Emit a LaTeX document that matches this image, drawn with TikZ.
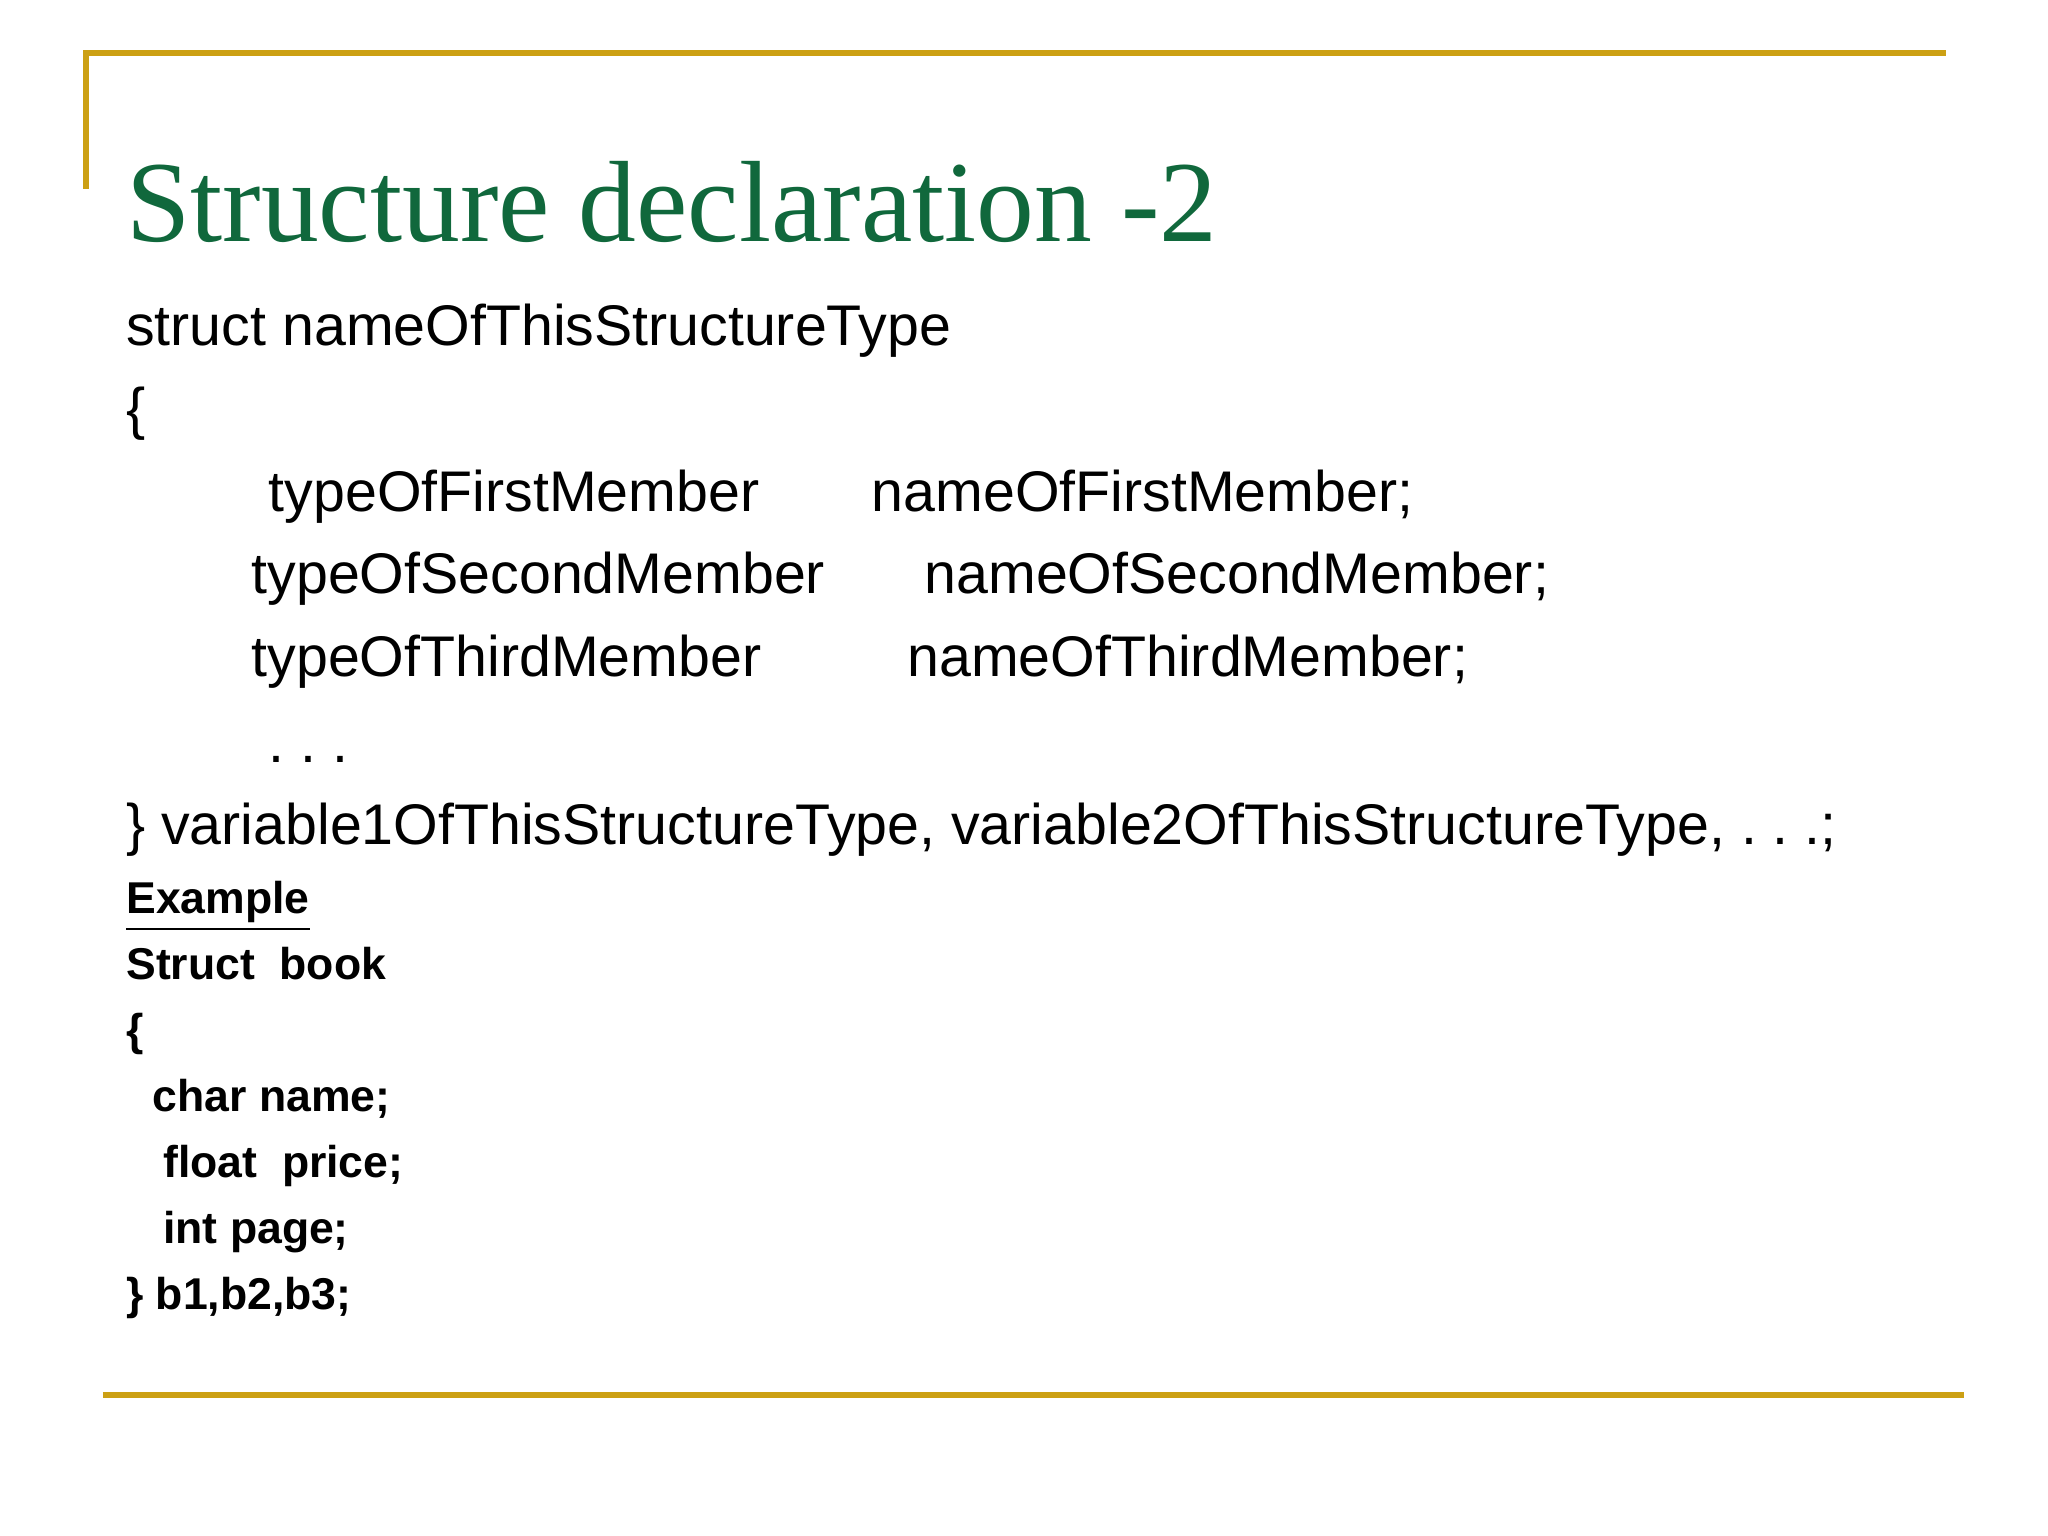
\documentclass[tikz,border=0pt]{standalone}
\usepackage{fontspec}
\setmainfont{Liberation Serif}
\setsansfont{Liberation Sans}
\usepackage{xcolor}
\definecolor{gold}{RGB}{204,160,20}
\definecolor{titlegreen}{RGB}{16,104,60}
\tikzset{
  code/.style={anchor=base west, inner sep=0pt, font=\sffamily\fontsize{12.35}{14}\selectfont},
  bcode/.style={anchor=base west, inner sep=0pt, font=\sffamily\bfseries\fontsize{9.6}{11}\selectfont},
  rule/.style={draw=gold, line width=1.3pt}
}
\begin{document}
\begin{tikzpicture}[x=0.01cm, y=-0.01cm]
\useasboundingbox (0, 0) rectangle (1552, 1164);
\draw[rule] (65, 143) -- (65, 40) -- (1475, 40);
\draw[rule] (78, 1057) -- (1488, 1057);
\node[anchor=base west, inner sep=0pt, text=titlegreen, font=\fontsize{24.9}{30}\selectfont] (title) at (95, 183) {Structure declaration -2};
\node[code] (head) at (95, 262) {struct nameOfThisStructureType};
\node[code] (open) at (95, 325) {\{};
\node[code] (t1) at (203, 388) {typeOfFirstMember};
\node[code] (n1) at (660, 388) {nameOfFirstMember;};
\node[code] (t2) at (190, 450) {typeOfSecondMember};
\node[code] (n2) at (700, 450) {nameOfSecondMember;};
\node[code] (t3) at (190, 513) {typeOfThirdMember};
\node[code] (n3) at (687, 513) {nameOfThirdMember;};
\node[code] (dots) at (203, 578) {.\ .\ .};
\node[code] (close) at (95, 640) {\} variable1OfThisStructureType, variable2OfThisStructureType, .\ .\ .;};
\node[bcode] (ex) at (95, 692) {\underline{Example}};
\node[bcode] (sb) at (95, 742) {Struct\ \ book};
\node[bcode] (bo) at (95, 792) {\{};
\node[bcode] (m1) at (115, 842) {char name;};
\node[bcode] (m2) at (123, 892) {float\ \ price;};
\node[bcode] (m3) at (123, 942) {int page;};
\node[bcode] (bc) at (95, 992) {\} b1,b2,b3;};
\end{tikzpicture}
\end{document}
